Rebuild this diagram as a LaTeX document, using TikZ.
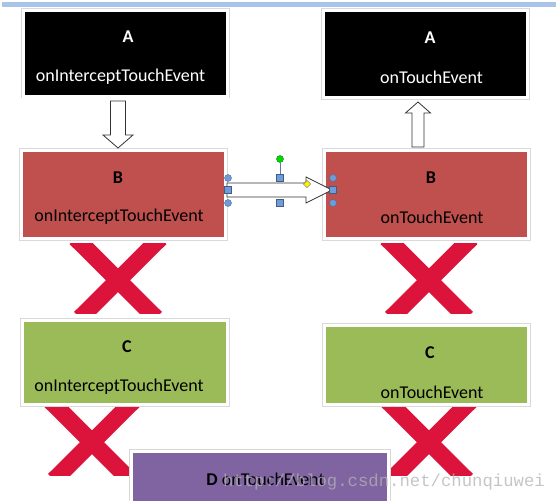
\documentclass[tikz,border=0pt]{standalone}
\usepackage{fontspec}
\setmainfont{Carlito}
\newfontfamily\wmfont{Liberation Mono}
\usetikzlibrary{calc,shadows}

\definecolor{boxred}{RGB}{192,80,77}
\definecolor{boxgreen}{RGB}{155,187,89}
\definecolor{boxpurple}{RGB}{128,100,162}
\definecolor{crossred}{RGB}{220,20,60}
\definecolor{barblue}{RGB}{169,196,232}
\definecolor{handleblue}{RGB}{111,155,216}

\tikzstyle{evbox} = [rectangle, draw=white, line width=3pt, outer sep=0pt, inner sep=0pt,
  drop shadow={shadow xshift=1.5pt, shadow yshift=-1.5pt, fill=gray!60, opacity=0.7},
  preaction={draw=gray!30, line width=4.2pt}]
\tikzstyle{lbl} = [text centered, inner sep=0pt, font=\fontsize{18}{20}\selectfont]
\tikzstyle{blockarr} = [draw=black!80, fill=white, line width=0.8pt, line join=miter]
\tikzstyle{hcirc} = [circle, fill=handleblue, draw=handleblue!70!black, line width=0.4pt, inner sep=0pt, minimum size=7pt]
\tikzstyle{hsq} = [rectangle, fill=handleblue, draw=handleblue!60!black, line width=0.4pt, inner sep=0pt, minimum size=7pt]

% thick red X, clipped flat at top and bottom
\newcommand{\redcross}[2]{%
 \begin{scope}
  \clip (#1-50,#2-35) rectangle (#1+50,#2+35);
  \draw[crossred, line width=17pt] (#1-42.5,#2-40) -- (#1+38,#2+40);
  \draw[crossred, line width=17pt] (#1+42.5,#2-40) -- (#1-38,#2+40);
 \end{scope}}

\begin{document}
\begin{tikzpicture}[x=1pt, y=-1pt]

\clip (0,0) rectangle (558,501);

% title bar
\fill[barblue] (2,2) rectangle (556,7);

% crosses
\redcross{118}{278}
\redcross{429}{278}
\redcross{92}{440}
\redcross{429}{440}

% boxes
\node[evbox, fill=black, minimum width=204pt, minimum height=86pt] (aL) at (125.5,53) {};
\node[evbox, fill=black, minimum width=204pt, minimum height=87pt] (aR) at (425.5,54) {};
\node[evbox, fill=boxred, minimum width=204pt, minimum height=88pt] (bL) at (123.5,194.5) {};
\node[evbox, fill=boxred, minimum width=204pt, minimum height=88pt] (bR) at (426.5,194.5) {};
\node[evbox, fill=boxgreen, minimum width=205pt, minimum height=84pt] (cL) at (125,362.5) {};
\node[evbox, fill=boxgreen, minimum width=204pt, minimum height=79pt] (cR) at (426.5,365) {};
\node[evbox, fill=boxpurple, minimum width=257pt, minimum height=90pt] (dB) at (260,496.5) {};

% block arrows
\draw[blockarr] ($(aL.south)+(-15,5)$) -- ++(15,0) -- ++(0,34) -- ++(7.5,0)
  -- ++(-15,13) -- ++(-15,-13) -- ++(7.5,0) -- cycle;
\draw[blockarr] ($(bR.north)+(-14.5,-3.5)$) -- ++(12,0) -- ++(0,-34) -- ++(6.5,0)
  -- ++(-12.5,-11) -- ++(-12.5,11) -- ++(6.5,0) -- cycle;
\draw[blockarr] ($(bL.east)+(1.5,-11.5)$) -- ++(79,0) -- ++(0,-6) -- ++(26,13)
  -- ++(-26,13) -- ++(0,-6) -- ++(-79,0) -- cycle;

% texts
\node[lbl, text=white] (aLt) at (128,37) {\bfseries A};
\node[lbl, text=white] (aLe) at (120.5,77) {onInterceptTouchEvent};
\node[lbl, text=white] (aRt) at (430,38) {\bfseries A};
\node[lbl, text=white] (aRe) at (431.5,77) {onTouchEvent};
\node[lbl] (bLt) at (118,178) {\bfseries B};
\node[lbl] (bLe) at (119,217) {onInterceptTouchEvent};
\node[lbl] (bRt) at (431,178) {\bfseries B};
\node[lbl] (bRe) at (432,217) {onTouchEvent};
\node[lbl] (cLt) at (127,347) {\bfseries C};
\node[lbl] (cLe) at (119,387) {onInterceptTouchEvent};
\node[lbl] (cRt) at (430,353) {\bfseries C};
\node[lbl] (cRe) at (432,392) {onTouchEvent};
\node[lbl] (dBt) at (265.5,479) {\bfseries D\mdseries{} onTouchEvent};

% selection handles
\node[circle, fill=green!85!black, draw=green!50!black, line width=0.4pt, inner sep=0pt, minimum size=7pt] (hrot) at (280,159) {};
\node[hsq] (htop) at (280,178) {};
\draw[handleblue!80!black, line width=0.8pt] (hrot) -- (htop);
\node[hsq] (hbot) at (280,203) {};
\node[hcirc] (hlt) at (228,178) {};
\node[hsq] (hlm) at (228,190) {};
\node[hcirc] (hlb) at (228,203) {};
\node[hcirc] (hrt) at (333,178) {};
\node[hsq] (hrm) at (333,190) {};
\node[hcirc] (hrb) at (333,203) {};
\node[rectangle, rotate=45, fill=yellow, draw=black!60, line width=0.4pt, inner sep=0pt, minimum size=5pt] (hadj) at (307,184) {};

% watermark
\node[inner sep=0pt, text=black!30, text opacity=0.75, font=\wmfont\fontsize{17.3}{18}\selectfont] (wm) at (384,482) {http://blog.csdn.net/chunqiuwei};

\end{tikzpicture}
\end{document}
